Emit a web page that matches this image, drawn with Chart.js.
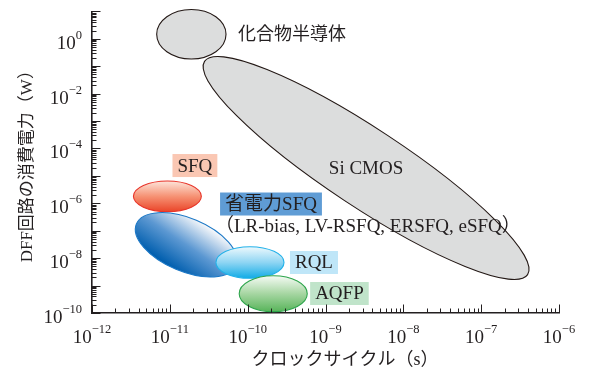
<!DOCTYPE html>
<html>
<head>
<meta charset="utf-8">
<script src="https://cdn.jsdelivr.net/npm/chart.js@4/dist/chart.umd.min.js"></script>
<style>
  html, body { margin: 0; padding: 0; background: #fff; }
  #wrap { width: 589px; height: 372px; position: relative; }
</style>
</head>
<body>
<div id="wrap"><canvas id="c" width="589" height="372"></canvas></div>
<script>
// Device technologies as regions: clock cycle (s) vs. DFF power dissipation (W)
const technologies = ['Si CMOS', '化合物半導体', 'SFQ', '省電力SFQ', 'RQL', 'AQFP'];
// centre of each region
const centerClock = [3.32e-9, 1.89e-11, 9.3e-12, 1.62e-11, 1.07e-10, 2.13e-10];
const centerPower = [1.94e-5, 1.47, 1.8e-6, 3.08e-8, 6.95e-9, 5.06e-10];
// end point of the long semi-axis
const majorClock = [3.95e-7, 5.27e-11, 2.54e-11, 7.06e-11, 2.93e-10, 5.83e-10];
const majorPower = [2.51e-9, 1.47, 1.8e-6, 5.36e-9, 6.95e-9, 5.06e-10];
// end point of the short semi-axis
const minorClock = [6.27e-9, 1.89e-11, 9.3e-12, 2.19e-11, 1.07e-10, 2.13e-10];
const minorPower = [3.0e-4, 11.8, 6.52e-6, 2.42e-7, 2.62e-8, 2.29e-9];

// decade tick labels (10^n)
const clockExponents = [-12, -11, -10, -9, -8, -7, -6];
const powerExponents = [-10, -8, -6, -4, -2, 0];

const xTitle = 'クロックサイクル（s）';
const yTitle = 'DFF回路の消費電力（W）';

const INK = '#231f20';
const SERIF = '"Liberation Serif", "Noto Sans CJK JP", serif';

const regionStyles = [
  { fill: '#dcdddd', stroke: '#231815' },
  { fill: '#dcdddd', stroke: '#231815' },
  { grad: 'v', stops: [[0, '#fde4da'], [0.5, '#f69274'], [1, '#ea4529']], stroke: '#e8352a' },
  { grad: 'd', stops: [[0, '#f5f7fa'], [0.5, '#5c98d2'], [1, '#005eae']], stroke: '#1c78c6' },
  { grad: 'v', stops: [[0, '#eef9fd'], [0.5, '#8ed5f3'], [1, '#12ace6']], stroke: '#22b1e9' },
  { grad: 'v', stops: [[0, '#f6fbf5'], [0.5, '#a6d6a2'], [1, '#58b45a']], stroke: '#2ea54c' }
];

// text annotations, anchored in data coordinates
const notes = [
  { text: '化合物半導体', x: 7.51e-11, y: 1.44, align: 'left', size: 18 },
  { text: 'Si CMOS', x: 3.32e-9, y: 1.94e-5, align: 'center', size: 19 },
  { text: 'SFQ', x: 2.10e-11, y: 2.39e-5, align: 'center', size: 19, box: '#fac7b3' },
  { text: '省電力SFQ', x: 4.42e-11, y: 9.44e-7, align: 'left', size: 19, box: '#5f9cd5' },
  { text: '（LR-bias, LV-RSFQ, ERSFQ, eSFQ）', x: 3.8e-11, y: 1.43e-7, align: 'left', size: 19 },
  { text: 'RQL', x: 7.11e-10, y: 6.95e-9, align: 'center', size: 19, box: '#bfe6f8' },
  { text: 'AQFP', x: 1.51e-9, y: 5.14e-10, align: 'center', size: 19, box: '#c0e4ca' }
];

function drawPower(ctx, x, y, exp, align) {
  // "10" with a superscript exponent
  const base = '10';
  const sup = (exp < 0 ? '\u2212' : '') + Math.abs(exp);
  ctx.font = '19px ' + SERIF;
  const wb = ctx.measureText(base).width;
  ctx.font = '12.5px ' + SERIF;
  const ws = ctx.measureText(sup).width;
  const total = wb + ws;
  let left = align === 'right' ? x - total : x - total / 2;
  ctx.textAlign = 'left';
  ctx.textBaseline = 'alphabetic';
  ctx.font = '19px ' + SERIF;
  ctx.fillText(base, left, y);
  ctx.font = '12.5px ' + SERIF;
  ctx.fillText(sup, left + wb, y - 10);
}

const regionPlugin = {
  id: 'regions',
  afterDatasetsDraw(chart) {
    const ctx = chart.ctx;
    const xs = chart.scales.x, ys = chart.scales.y;
    ctx.save();
    technologies.forEach((name, i) => {
      const cx = xs.getPixelForValue(centerClock[i]);
      const cy = ys.getPixelForValue(centerPower[i]);
      const ax = xs.getPixelForValue(majorClock[i]) - cx;
      const ay = ys.getPixelForValue(majorPower[i]) - cy;
      const bx = xs.getPixelForValue(minorClock[i]) - cx;
      const by = ys.getPixelForValue(minorPower[i]) - cy;
      ctx.beginPath();
      ctx.save();
      ctx.transform(ax, ay, bx, by, cx, cy);
      ctx.arc(0, 0, 1, 0, Math.PI * 2);
      ctx.restore();
      const st = regionStyles[i];
      let fill = st.fill;
      if (st.grad === 'v') {
        const hy = Math.sqrt(ay * ay + by * by);
        fill = ctx.createLinearGradient(cx, cy - hy, cx, cy + hy);
        st.stops.forEach(s => fill.addColorStop(s[0], s[1]));
      } else if (st.grad === 'd') {
        const dx = bx + 0.1 * ax, dy = by + 0.1 * ay;
        fill = ctx.createLinearGradient(cx + dx, cy + dy, cx - dx, cy - dy);
        st.stops.forEach(s => fill.addColorStop(s[0], s[1]));
      }
      ctx.fillStyle = fill;
      ctx.fill();
      ctx.lineWidth = 1.1;
      ctx.strokeStyle = st.stroke;
      ctx.stroke();
    });

    // annotations
    notes.forEach(n => {
      const px = xs.getPixelForValue(n.x);
      const py = ys.getPixelForValue(n.y);
      ctx.font = n.size + 'px ' + SERIF;
      const w = ctx.measureText(n.text).width;
      let left = n.align === 'center' ? px - w / 2 : px;
      if (n.box) {
        const padX = 5;
        const bl = n.align === 'center' ? px - w / 2 - padX : px;
        ctx.fillStyle = n.box;
        ctx.fillRect(bl, py - 11.5, w + padX * 2, 23);
        left = bl + padX;
      }
      ctx.fillStyle = INK;
      ctx.textAlign = 'left';
      ctx.textBaseline = 'middle';
      ctx.fillText(n.text, left, py + 1);
    });
    ctx.restore();
  },
  afterDraw(chart) {
    const ctx = chart.ctx;
    const xs = chart.scales.x, ys = chart.scales.y;
    const area = chart.chartArea;
    ctx.save();
    ctx.strokeStyle = INK;
    ctx.lineWidth = 1;
    // inward ticks on the clock axis
    for (let e = clockExponents[0]; e <= clockExponents[clockExponents.length - 1]; e++) {
      for (let k = 1; k <= 9; k++) {
        if (e === clockExponents[clockExponents.length - 1] && k > 1) break;
        const px = Math.round(xs.getPixelForValue(k * Math.pow(10, e))) + 0.5;
        const len = k === 1 ? 8.5 : 4.5;
        ctx.beginPath();
        ctx.moveTo(px, area.bottom);
        ctx.lineTo(px, area.bottom - len);
        ctx.stroke();
      }
    }
    // inward ticks on the power axis
    for (let e = -10; e <= 1; e++) {
      for (let k = 1; k <= 9; k++) {
        if (e === 1 && k > 1) break;
        const py = Math.round(ys.getPixelForValue(k * Math.pow(10, e))) + 0.5;
        const len = k === 1 ? 8.5 : 4.5;
        ctx.beginPath();
        ctx.moveTo(area.left, py);
        ctx.lineTo(area.left + len, py);
        ctx.stroke();
      }
    }
    // tick labels
    ctx.fillStyle = INK;
    clockExponents.forEach(e => {
      drawPower(ctx, xs.getPixelForValue(Math.pow(10, e)), area.bottom + 30, e, 'center');
    });
    powerExponents.forEach(e => {
      drawPower(ctx, area.left - 10, ys.getPixelForValue(Math.pow(10, e)) + 10, e, 'right');
    });
    // axis titles
    ctx.font = '18px ' + SERIF;
    ctx.textAlign = 'center';
    ctx.textBaseline = 'middle';
    ctx.fillText(xTitle, 345, 360);
    ctx.save();
    ctx.translate(28, (area.top + area.bottom) / 2);
    ctx.rotate(-Math.PI / 2);
    ctx.font = '17px ' + SERIF;
    ctx.fillText(yTitle, 0, 0);
    ctx.restore();
    ctx.restore();
  }
};

new Chart(document.getElementById('c'), {
  type: 'scatter',
  data: {
    datasets: technologies.map((name, i) => ({
      label: name,
      data: [{ x: centerClock[i], y: centerPower[i] }],
      pointRadius: 0,
      pointHoverRadius: 0
    }))
  },
  options: {
    responsive: false,
    devicePixelRatio: 1,
    animation: false,
    layout: { padding: { left: 0, right: 30, top: 11.4, bottom: 0 } },
    plugins: { legend: { display: false }, tooltip: { enabled: false } },
    events: [],
    scales: {
      x: {
        type: 'logarithmic',
        min: 1e-12,
        max: 1e-6,
        grid: { display: false },
        border: { display: true, color: INK, width: 1.6 },
        ticks: { display: false },
        afterFit(scale) { scale.height = 59; }
      },
      y: {
        type: 'logarithmic',
        min: 1e-10,
        max: 10,
        grid: { display: false },
        border: { display: true, color: INK, width: 1.6 },
        ticks: { display: false },
        afterFit(scale) { scale.width = 92; }
      }
    }
  },
  plugins: [regionPlugin]
});
</script>
</body>
</html>
